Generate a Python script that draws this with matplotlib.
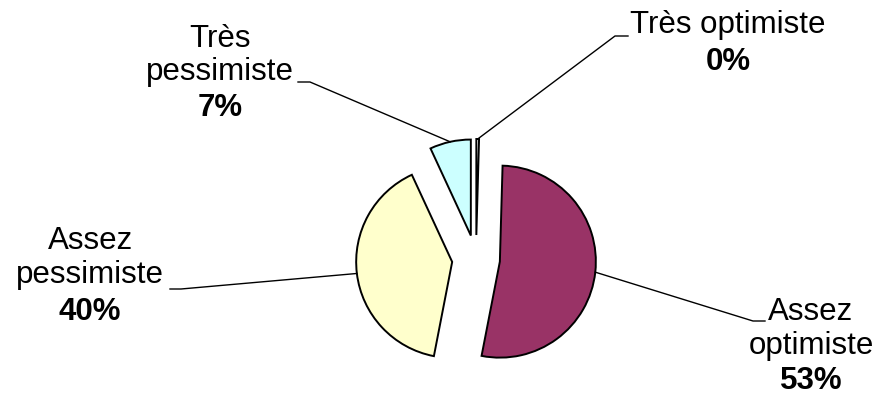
import matplotlib.pyplot as plt
import numpy as np

# donnees
categories = ["Très optimiste", "Assez optimiste", "Assez pessimiste", "Très pessimiste"]
valeurs = [0.45, 52.6, 40.05, 6.9]
couleurs = ["#FFFFFF", "#993366", "#FFFFCC", "#CCFFFF"]

plt.rcParams['font.family'] = ['Liberation Sans', 'DejaVu Sans']

W, H = 877, 398
fig = plt.figure(figsize=(W / 100, H / 100), dpi=100)
ax = fig.add_axes([0, 0, 1, 1])

rayon = 96
centre = (476, H - 259)
wedges, _ = ax.pie(valeurs, colors=couleurs, startangle=90, counterclock=False,
                   radius=rayon, center=centre, explode=[24] * len(valeurs),
                   wedgeprops=dict(edgecolor='black', linewidth=1.4), frame=True)
ax.set_xlim(0, W)
ax.set_ylim(0, H)
ax.set_aspect('equal')
ax.axis('off')

# position des etiquettes (x, y du nom, y du pourcentage) et coude du trait
etiq = [
    (728, 25, 62, (628, 36), (615, 36)),
    (811, 329, 381, (765, 321), (753, 321)),
    (90, 258, 312, (170, 289), (181, 289)),
    (220, 55.5, 108, (298, 82), (310, 82)),
]

for w, nom, v, (x, yn, yp, bout, coude) in zip(wedges, categories, valeurs, etiq):
    ang = np.deg2rad((w.theta1 + w.theta2) / 2)
    px = w.center[0] + w.r * np.cos(ang)
    py = w.center[1] + w.r * np.sin(ang)
    ax.plot([px, coude[0], bout[0]], [py, H - coude[1], H - bout[1]],
            color='black', lw=1)
    nom_txt = nom.replace(" ", "\n") if nom != "Très optimiste" else nom
    ax.text(x, H - yn, nom_txt, ha='center', va='center', fontsize=22.5,
            linespacing=1.15)
    ax.text(x, H - yp, "%d%%" % round(v), ha='center', va='center',
            fontsize=22.5, fontweight='bold')

fig.savefig("out.png", dpi=100)
